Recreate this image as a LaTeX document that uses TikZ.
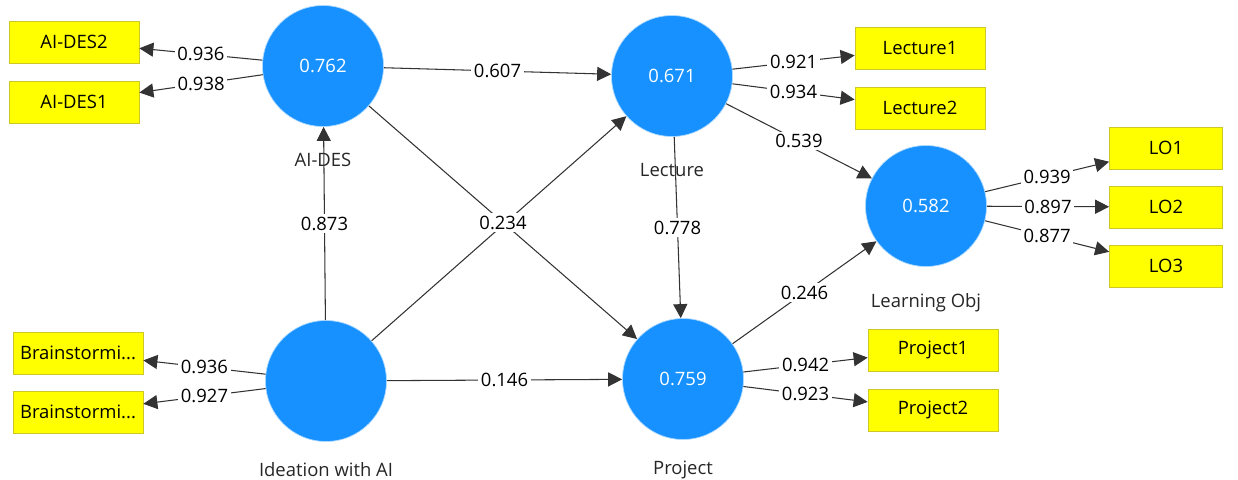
\documentclass[tikz,border=0pt]{standalone}
\usepackage{fontspec}
\setmainfont{Open Sans}
\usetikzlibrary{arrows.meta}
\definecolor{plsblue}{RGB}{22,145,255}
\definecolor{plsyellow}{RGB}{255,255,0}
\definecolor{plsborder}{RGB}{205,200,40}

\begin{document}
\begin{tikzpicture}[x=0.02cm, y=-0.02cm, font=\fontsize{10.5}{12}\selectfont,
    every label/.style={yshift=-0.4cm, text=black!85},
    latent/.style={circle, fill=plsblue, draw=plsblue!35, minimum size=2.42cm, inner sep=0pt, text=white},
    indicator/.style={rectangle, fill=plsyellow, draw=plsborder, minimum width=2.6cm, minimum height=0.84cm, inner sep=0pt},
    link/.style={draw=black!80, line width=0.6pt, -{Triangle[length=8pt,width=8pt]}},
    coef/.style={fill=white, inner sep=1.5pt, text=black}]
    \useasboundingbox (0,0) rectangle (1238,480);

    % latent variables
    \node[latent, label=below:AI-DES] (aides) at (323,66) {0.762};
    \node[latent, label=below:Lecture] (lecture) at (672,76) {0.671};
    \node[latent, label=below:Learning Obj] (lobj) at (926,206) {0.582};
    \node[latent, label={[yshift=0.12cm]below:Ideation with AI}] (ideation) at (326,381) {};
    \node[latent, label={[yshift=0.1cm]below:Project}] (project) at (683,379) {0.759};

    % indicators
    \node[indicator] (aides2) at (74,42) {AI-DES2};
    \node[indicator] (aides1) at (74,102) {AI-DES1};
    \node[indicator] (lecture1) at (920,48) {Lecture1};
    \node[indicator] (lecture2) at (920,108) {Lecture2};
    \node[indicator, minimum width=2.26cm] (lo1) at (1166,148) {LO1};
    \node[indicator, minimum width=2.26cm] (lo2) at (1166,207) {LO2};
    \node[indicator, minimum width=2.26cm] (lo3) at (1166,266) {LO3};
    \node[indicator] (brain1) at (78,353) {Brainstormi...};
    \node[indicator] (brain2) at (78,412) {Brainstormi...};
    \node[indicator] (project1) at (933,350) {Project1};
    \node[indicator] (project2) at (933,410) {Project2};

    % outer loadings
    \draw[link] (aides) -- node[coef] {0.936} (aides2);
    \draw[link] (aides) -- node[coef] {0.938} (aides1);
    \draw[link] (lecture) -- node[coef] {0.921} (lecture1);
    \draw[link] (lecture) -- node[coef] {0.934} (lecture2);
    \draw[link] (lobj) -- node[coef] {0.939} (lo1);
    \draw[link] (lobj) -- node[coef] {0.897} (lo2);
    \draw[link] (lobj) -- node[coef] {0.877} (lo3);
    \draw[link] (ideation) -- node[coef] {0.936} (brain1);
    \draw[link] (ideation) -- node[coef] {0.927} (brain2);
    \draw[link] (project) -- node[coef] {0.942} (project1);
    \draw[link] (project) -- node[coef] {0.923} (project2);

    % path coefficients
    \draw[link] (ideation) -- (lecture);
    \draw[link] (aides) -- node[coef] {0.234} (project);
    \draw[link] (aides) -- node[coef] {0.607} (lecture);
    \draw[link] (ideation) -- node[coef] {0.873} (aides);
    \draw[link] (ideation) -- node[coef] {0.146} (project);
    \draw[link] (lecture) -- node[coef] {0.778} (project);
    \draw[link] (lecture) -- node[coef] {0.539} (lobj);
    \draw[link] (project) -- node[coef] {0.246} (lobj);
\end{tikzpicture}
\end{document}
